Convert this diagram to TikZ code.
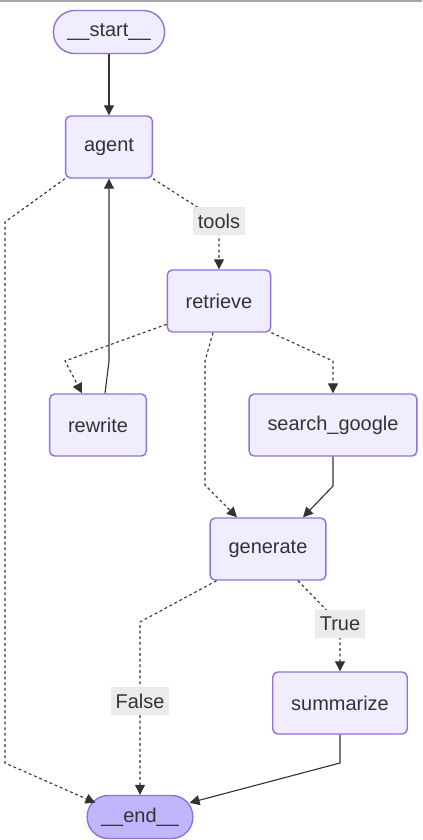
\documentclass[tikz,border=0pt]{standalone}
\usepackage{fontspec}
\setmainfont{Liberation Sans}
\usetikzlibrary{arrows.meta}
\definecolor{nodefill}{HTML}{EFEDFF}
\definecolor{nodeline}{HTML}{9370DB}
\definecolor{endfill}{HTML}{BFB6FC}
\definecolor{edgeline}{HTML}{333333}
\definecolor{lblfill}{HTML}{EBEBEB}

\begin{document}
\begin{tikzpicture}
	\tikzset{vertex/.style = {shape=rectangle,draw=nodeline,fill=nodefill,line width=1pt,rounded corners=0.125cm,minimum height=1.55cm,inner xsep=0.46cm,text=edgeline,font=\fontsize{14.2}{17}\selectfont}}
	\tikzset{terminal/.style = {vertex,rounded corners=0.53cm,minimum height=1.075cm,inner xsep=0.35cm}}
	\tikzset{lbl/.style = {fill=lblfill,text=edgeline,inner xsep=0.125cm,inner ysep=0pt,minimum height=0.72cm,font=\fontsize{14.2}{17}\selectfont}}
	\tikzset{edge/.style = {-{Triangle[length=0.25cm,width=0.25cm]},draw=edgeline,line width=0.8pt}}
	\tikzset{condedge/.style = {edge,dash pattern=on 2pt off 2pt}}
	\useasboundingbox (0,0) rectangle (10.55,-21);
	\draw[gray!70,line width=0.05cm] (0,-0.025) -- (10.55,-0.025);
	\node[terminal] (start) at (2.725,-0.8) {\_\_start\_\_};
	\node[vertex] (agent) at (2.725,-3.675) {agent};
	\node[vertex] (retrieve) at (5.475,-7.525) {retrieve};
	\node[vertex] (rewrite) at (2.45,-10.625) {rewrite};
	\node[vertex] (google) at (8.325,-10.625) {search\_google};
	\node[vertex] (generate) at (6.7,-13.725) {generate};
	\node[vertex] (summarize) at (8.5,-17.575) {summarize};
	\node[terminal,fill=endfill] (end) at (3.5,-20.425) {\_\_end\_\_};
	%edges
	\draw[edge] (start) to (agent);
	\draw[condedge] (agent.south west) -- (0.125,-5.55) -- (0.125,-19.075) -- ([xshift=0.225cm,yshift=-0.2cm]end.north west);
	\draw[condedge] (agent.south east) -- (5.475,-5.525) node[lbl] (tools) {tools} -- (retrieve);
	\draw[condedge] (retrieve.204) -- (1.625,-9.025) -- ([xshift=-0.4cm]rewrite.north);
	\draw[edge] ([xshift=0.175cm]rewrite.north) -- (2.725,-9.025) -- (agent);
	\draw[condedge] (retrieve.south east) -- (8.325,-9.025) -- (google);
	\draw[condedge] ([xshift=-0.15cm]retrieve.south) -- (5.125,-9.025) -- (5.125,-12.125) -- ([xshift=-0.775cm]generate.north);
	\draw[edge] (google) -- (8.325,-12.15) -- ([xshift=0.875cm]generate.north);
	\draw[condedge] ([xshift=0.175cm]generate.south west) -- (3.5,-15.55) -- (3.5,-17.525) node[lbl] (false) {False} -- (end);
	\draw[condedge] ([xshift=0.75cm]generate.south) -- (8.5,-15.6) node[lbl] (true) {True} -- (summarize);
	\draw[edge] (summarize) -- (8.5,-19.075) -- ([xshift=-0.1cm,yshift=-0.2cm]end.north east);
\end{tikzpicture}
\end{document}
